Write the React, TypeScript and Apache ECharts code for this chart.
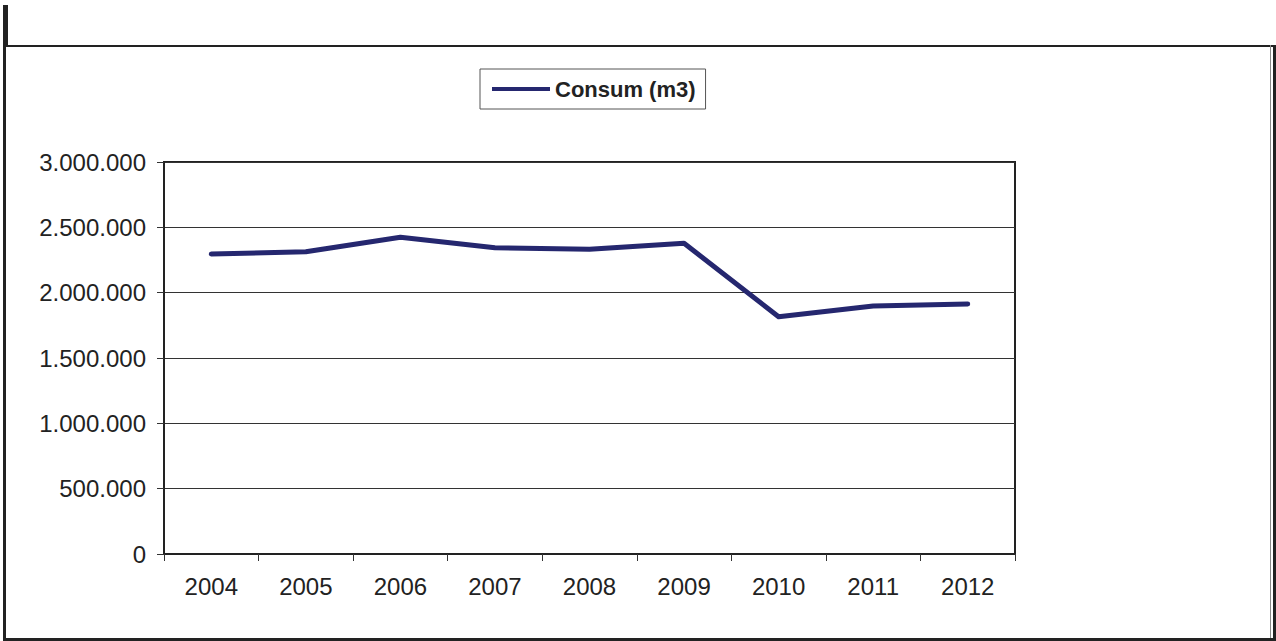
import React, { useEffect, useRef } from "react";
import * as echarts from "echarts";

const years = ["2004", "2005", "2006", "2007", "2008", "2009", "2010", "2011", "2012"];
const consum = [2296000, 2313000, 2424000, 2344000, 2332000, 2378000, 1816000, 1898000, 1913000];
const seriesName = "Consum (m3)";
const yMin = 0;
const yMax = 3000000;
const yStep = 500000;

const FONT = "'Liberation Sans', Arial, sans-serif";
const LINE_COLOR = "#25276f";

function fmt(v: number): string {
  return String(Math.round(v)).replace(/\B(?=(\d{3})+(?!\d))/g, ".");
}

export default function App() {
  const ref = useRef<HTMLDivElement>(null);

  useEffect(() => {
    document.body.style.margin = "0";
    if (!ref.current) return;
    const chart = echarts.init(ref.current, null, { renderer: "svg" });
    chart.setOption({
      animation: false,
      backgroundColor: "#ffffff",
      textStyle: { fontFamily: FONT },
      grid: {
        left: 164,
        top: 162,
        right: 261,
        bottom: 87,
        show: true,
        borderColor: "#222",
        borderWidth: 2,
        backgroundColor: "transparent",
      },
      legend: {
        left: 480,
        top: 69,
        orient: "horizontal",
        icon: "rect",
        itemWidth: 58,
        itemHeight: 4,
        padding: [9, 10, 9, 12],
        borderColor: "#555",
        borderWidth: 1,
        textStyle: { fontFamily: FONT, fontSize: 22, fontWeight: "bold", color: "#222" },
        data: [seriesName],
      },
      xAxis: {
        type: "category",
        data: years,
        boundaryGap: true,
        axisLine: { show: true, lineStyle: { color: "#222", width: 2 } },
        axisTick: { show: true, length: 7, interval: 0, lineStyle: { color: "#333", width: 1 } },
        axisLabel: { interval: 0, margin: 20, fontSize: 24, color: "#222", fontFamily: FONT },
        splitLine: { show: false },
      },
      yAxis: {
        type: "value",
        min: yMin,
        max: yMax,
        interval: yStep,
        axisLine: { show: true, lineStyle: { color: "#222", width: 2 } },
        axisTick: { show: true, length: 7, lineStyle: { color: "#333", width: 1 } },
        axisLabel: {
          margin: 18,
          fontSize: 24,
          color: "#222",
          fontFamily: FONT,
          formatter: (v: number) => fmt(v),
        },
        splitLine: { show: true, lineStyle: { color: "#333", width: 1 } },
      },
      series: [
        {
          name: seriesName,
          type: "line",
          data: consum,
          showSymbol: false,
          symbol: "none",
          lineStyle: { color: LINE_COLOR, width: 5, cap: "round", join: "round" },
          itemStyle: { color: LINE_COLOR },
        },
      ],
      graphic: [
        { type: "rect", shape: { x: 3, y: 5, width: 5, height: 42 }, style: { fill: "#222" }, silent: true },
        { type: "rect", shape: { x: 5, y: 45, width: 1271, height: 2 }, style: { fill: "#222" }, silent: true },
        { type: "rect", shape: { x: 3, y: 45, width: 3, height: 596 }, style: { fill: "#222" }, silent: true },
        { type: "rect", shape: { x: 1273, y: 45, width: 3, height: 596 }, style: { fill: "#222" }, silent: true },
        { type: "rect", shape: { x: 1270, y: 45, width: 1, height: 596 }, style: { fill: "#888" }, silent: true },
        { type: "rect", shape: { x: 3, y: 638, width: 1273, height: 3 }, style: { fill: "#222" }, silent: true },
      ],
    });
    return () => chart.dispose();
  }, []);

  return <div ref={ref} style={{ width: 1276, height: 641 }} />;
}
